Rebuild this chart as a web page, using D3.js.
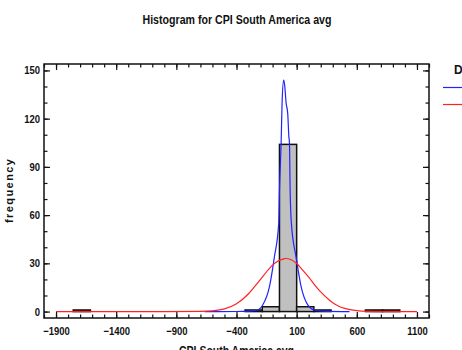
<!DOCTYPE html>
<html>
<head>
<meta charset="utf-8">
<script src="https://cdn.jsdelivr.net/npm/d3@7"></script>
<style>
  body { margin: 0; background: #fff; }
  svg text { font-family: "Liberation Sans", Arial, sans-serif; fill: #111; }
</style>
</head>
<body>
<div id="chart"></div>
<script>
// histogram classes (Statgraphics style: lower limit, upper limit, number of classes)
const classLower = -1900;
const classUpper = 1100;
const classCounts = [0, 1, 0, 0, 0, 0, 0, 0, 0, 0, 0, 1, 3, 104, 3, 1, 0, 0, 1, 1, 0];

const xTicks = [-1900, -1400, -900, -400, 100, 600, 1100];
const yTicks = [0, 30, 60, 90, 120, 150];

// fitted curves
const blueCurveX = [-665, -400, -300, -223, -181, -126, -85, -49, -43, -29, -21, -8, 0, 12, 26, 35, 40, 46, 56, 95, 137, 192, 247, 320, 540];
const blueCurveY = [0, 0.05, 0.3, 1, 4.2, 15.5, 34, 55, 75, 105, 130, 144, 141, 130, 123, 109, 105, 75, 55, 34, 15.5, 4.2, 1, 0.3, 0];

const redCurveX = [-1900, -1000, -700, -600, -500, -400, -300, -250, -200, -126, -100, 0, 7, 100, 137, 200, 261, 300, 371, 400, 454, 500, 600, 700, 800, 1100];
const redCurveY = [0, 0, 0.15, 0.5, 1.7, 4.9, 11.1, 15.5, 20.1, 26.9, 28.9, 32.9, 33, 29.9, 26.9, 21.5, 15.5, 12.2, 7.2, 5.5, 3.2, 2.0, 0.6, 0.13, 0, 0];

const W = 462, H = 350;
const plot = { left: 44, right: 429, top: 64, bottom: 318 };

const svg = d3.select("#chart")
    .append("svg")
    .attr("width", W)
    .attr("height", H);

const x = d3.scaleLinear().domain([-2000, 1200]).range([plot.left, plot.right]);
const y = d3.scaleLinear().domain([-4, 154]).range([plot.bottom, plot.top]);

// squeeze text to look like the narrow font of the original
function narrow(sel, factor) {
    sel.each(function () {
        const len = this.getComputedTextLength();
        d3.select(this).attr("textLength", len * factor).attr("lengthAdjust", "spacingAndGlyphs");
    });
}

// title
svg.append("text")
    .attr("x", 237)
    .attr("y", 24)
    .attr("text-anchor", "middle")
    .style("font-size", "13px")
    .style("font-weight", "bold")
    .text("Histogram for CPI South America avg")
    .attr("textLength", 189)
    .attr("lengthAdjust", "spacingAndGlyphs");

// bars
const classWidth = (classUpper - classLower) / classCounts.length;
const bins = classCounts.map((c, i) => ({ x0: classLower + i * classWidth, x1: classLower + (i + 1) * classWidth, n: c }))
    .filter(d => d.n > 0);

svg.append("g")
    .selectAll("rect")
    .data(bins)
    .enter()
    .append("rect")
    .attr("x", d => x(d.x0))
    .attr("y", d => y(d.n))
    .attr("width", d => x(d.x1) - x(d.x0))
    .attr("height", d => y(0) - y(d.n))
    .attr("fill", "#c0c0c0")
    .attr("stroke", "#111")
    .attr("stroke-width", 1.5);

const line = d3.line()
    .x(d => x(d[0]))
    .y(d => y(d[1]))
    .curve(d3.curveMonotoneX);

svg.append("path")
    .datum(blueCurveX.map((v, i) => [v, blueCurveY[i]]))
    .attr("d", line)
    .attr("fill", "none")
    .attr("stroke", "#2222ff")
    .attr("stroke-width", 1.2);

svg.append("path")
    .datum(redCurveX.map((v, i) => [v, redCurveY[i]]))
    .attr("d", line)
    .attr("fill", "none")
    .attr("stroke", "#ff2222")
    .attr("stroke-width", 1.2);

// axes: ticks point inward on all four sides
const xMinor = d3.range(-2000, 1201, 100);
const yMinor = d3.range(0, 151, 10);

function styleAxis(g) {
    g.select(".domain").remove();
    g.selectAll("line").attr("stroke", "#111").attr("stroke-width", 1.2);
    g.selectAll("text").style("font-size", "11px").style("font-weight", "bold")
        .attr("font-family", null).attr("font-size", null).attr("fill", "#111")
        .call(narrow, 0.86);
}

svg.append("g").attr("transform", `translate(0,${plot.bottom})`)
    .call(d3.axisBottom(x).tickValues(xMinor).tickSize(-3.5).tickFormat(""))
    .call(styleAxis);
svg.append("g").attr("transform", `translate(0,${plot.bottom})`)
    .call(d3.axisBottom(x).tickValues(xTicks).tickSizeInner(-6).tickSizeOuter(0).tickPadding(9).tickFormat(d3.format("d")))
    .call(styleAxis);
svg.append("g").attr("transform", `translate(0,${plot.top})`)
    .call(d3.axisTop(x).tickValues(xMinor).tickSize(-3.5).tickFormat(""))
    .call(styleAxis);
svg.append("g").attr("transform", `translate(0,${plot.top})`)
    .call(d3.axisTop(x).tickValues(xTicks).tickSize(-6).tickFormat(""))
    .call(styleAxis);

svg.append("g").attr("transform", `translate(${plot.left},0)`)
    .call(d3.axisLeft(y).tickValues(yMinor).tickSize(-3.5).tickFormat(""))
    .call(styleAxis);
svg.append("g").attr("transform", `translate(${plot.left},0)`)
    .call(d3.axisLeft(y).tickValues(yTicks).tickSizeInner(-6).tickSizeOuter(0).tickPadding(4))
    .call(styleAxis);
svg.append("g").attr("transform", `translate(${plot.right},0)`)
    .call(d3.axisRight(y).tickValues(yMinor).tickSize(-3.5).tickFormat(""))
    .call(styleAxis);
svg.append("g").attr("transform", `translate(${plot.right},0)`)
    .call(d3.axisRight(y).tickValues(yTicks).tickSize(-6).tickFormat(""))
    .call(styleAxis);

// frame
svg.append("rect")
    .attr("x", plot.left)
    .attr("y", plot.top)
    .attr("width", plot.right - plot.left)
    .attr("height", plot.bottom - plot.top)
    .attr("fill", "none")
    .attr("stroke", "#111")
    .attr("stroke-width", 1.5);

// axis titles (the x title is cut by the bottom edge, as in the original)
svg.append("text")
    .attr("x", (plot.left + plot.right) / 2)
    .attr("y", 355)
    .attr("text-anchor", "middle")
    .style("font-size", "12px")
    .style("font-weight", "bold")
    .text("CPI South America avg")
    .attr("textLength", 115)
    .attr("lengthAdjust", "spacingAndGlyphs");

svg.append("text")
    .attr("transform", `translate(13,${(plot.top + plot.bottom) / 2}) rotate(-90)`)
    .attr("text-anchor", "middle")
    .style("font-size", "11px")
    .style("font-weight", "bold")
    .text("frequency")
    .attr("textLength", 64)
    .attr("lengthAdjust", "spacing");

// legend (cut off by the right edge)
const legend = svg.append("g");
legend.append("text")
    .attr("x", 454)
    .attr("y", 74)
    .style("font-size", "12px")
    .style("font-weight", "bold")
    .text("Distribution");
legend.append("line")
    .attr("x1", 443).attr("x2", 475)
    .attr("y1", 87.5).attr("y2", 87.5)
    .attr("stroke", "#2222ff").attr("stroke-width", 1.2);
legend.append("line")
    .attr("x1", 443).attr("x2", 475)
    .attr("y1", 104.5).attr("y2", 104.5)
    .attr("stroke", "#ff2222").attr("stroke-width", 1.2);
</script>
</body>
</html>
